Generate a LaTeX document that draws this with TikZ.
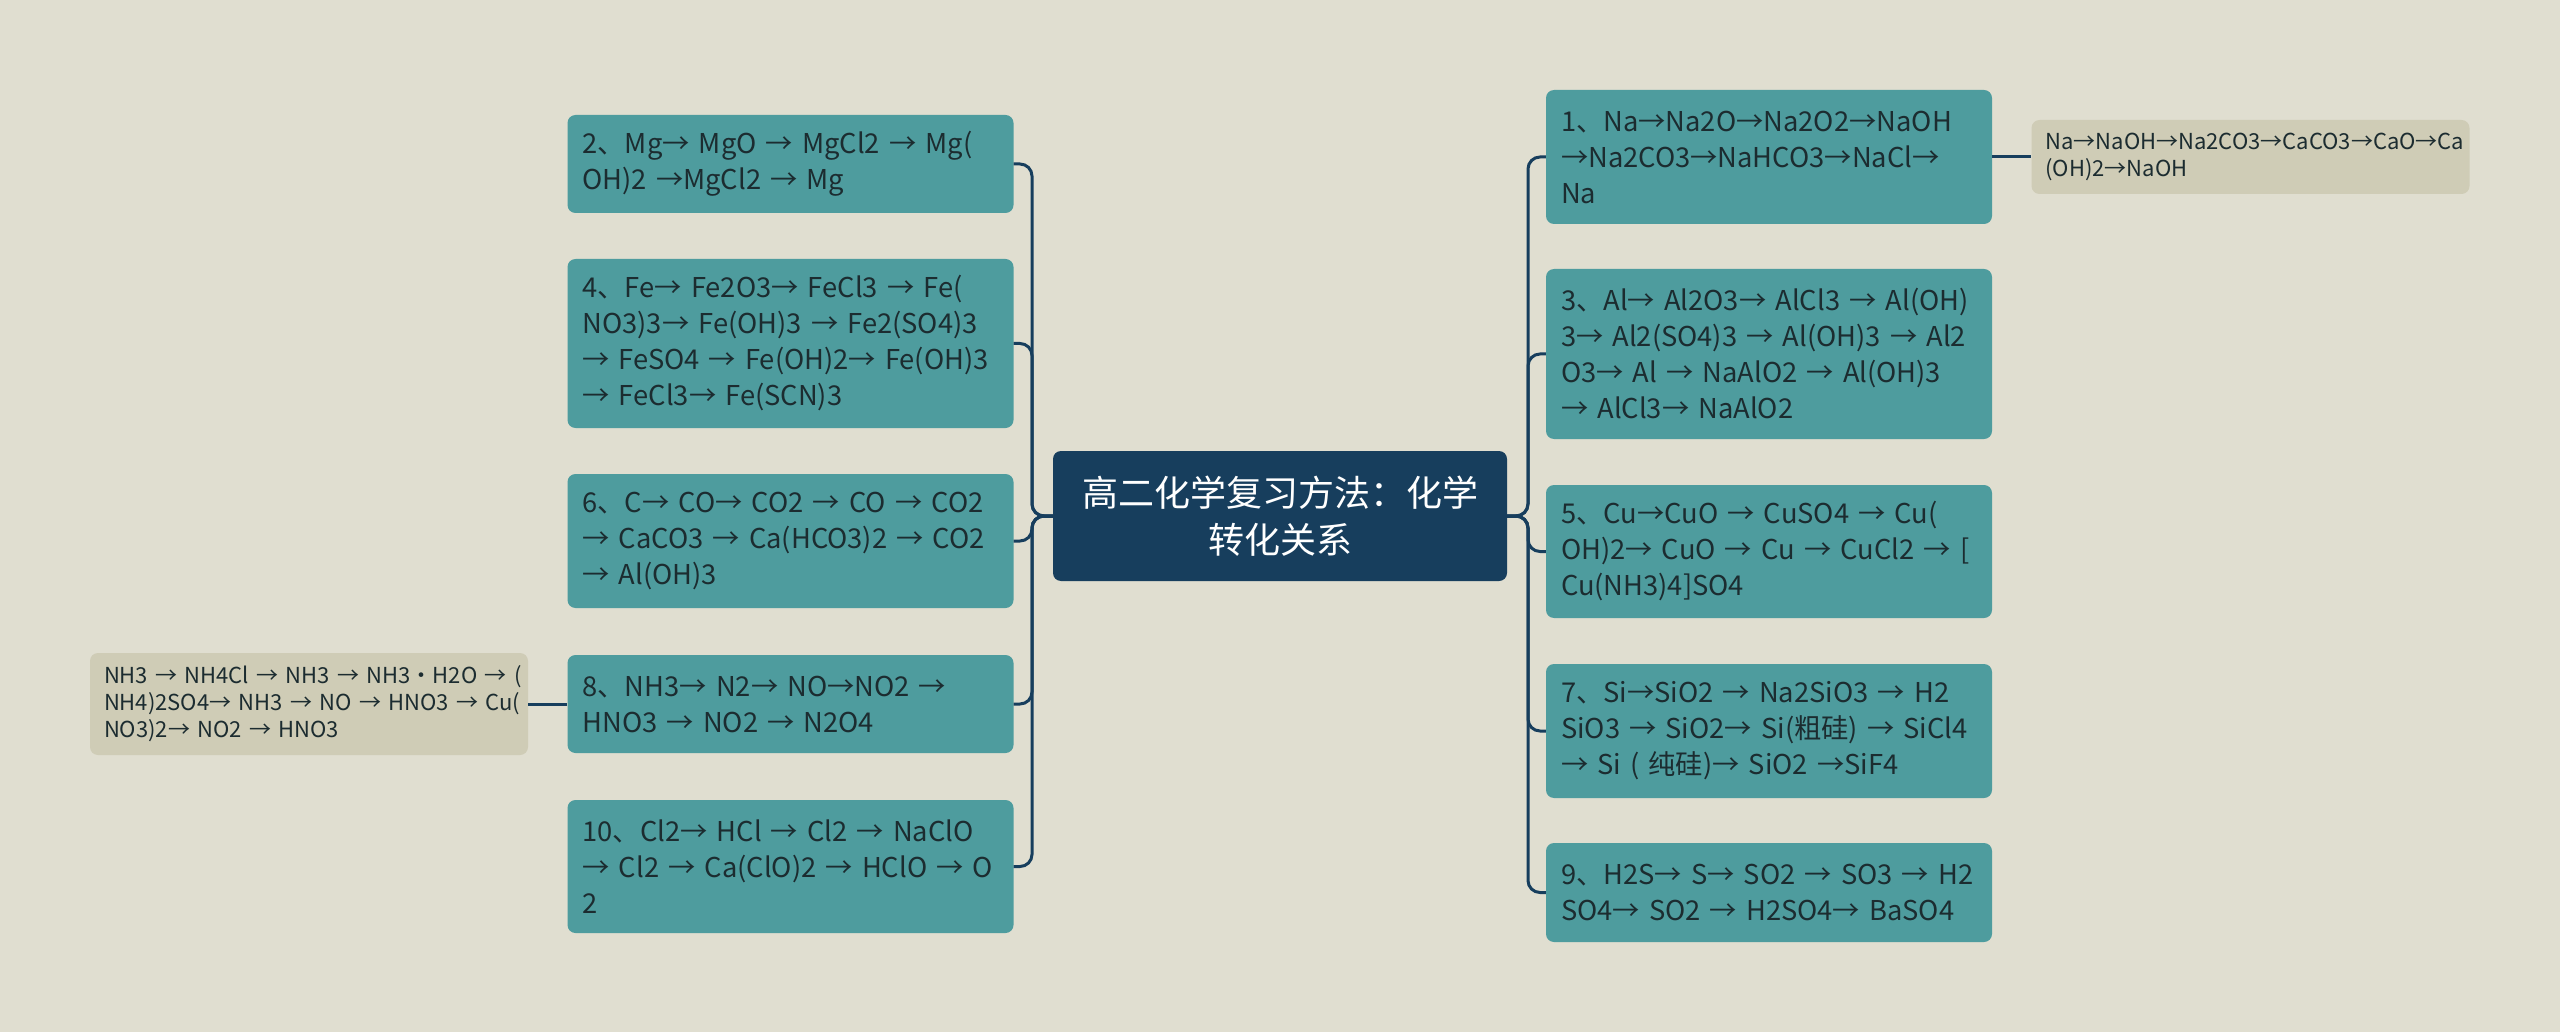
\documentclass[tikz,border=0pt]{standalone}
\usepackage{fontspec}
\setmainfont{Noto Sans CJK SC}
\definecolor{paper}{HTML}{E0DED0}
\definecolor{navy}{HTML}{173E5D}
\definecolor{tealbox}{HTML}{4E9C9E}
\definecolor{sand}{HTML}{CFCCB6}
\definecolor{ink}{HTML}{1C2C30}
\tikzset{
    topic/.style={fill=navy, text=white, rounded corners=8pt, align=center,
        font=\fontsize{36}{47}\selectfont, minimum width=454pt, minimum height=130pt, inner sep=0pt},
    branch/.style={fill=tealbox, text=ink, rounded corners=8pt, align=left, text width=416pt,
        inner xsep=15pt, inner ysep=0pt, font=\fontsize{27.3}{36}\selectfont},
    leaf/.style={fill=sand, text=ink, rounded corners=8pt, align=left, text width=410pt,
        inner xsep=14pt, inner ysep=0pt, font=\fontsize{22}{27}\selectfont},
    link/.style={draw=navy, line width=3pt, rounded corners=12pt}
}
\begin{document}
\begin{tikzpicture}[x=1pt,y=-1pt]
    \fill[paper] (0,0) rectangle (2560,1032);
    \useasboundingbox (0,0) rectangle (2560,1032);
    % Central topic
    \node[topic] (main) at (1280,516) {高二化学复习方法：化学\\转化关系};
    % Left branches
    \node[branch, minimum height=98pt] (n2) at (790.5,164) {\mbox{2、Mg→ MgO → MgCl2 → Mg(}\\\mbox{OH)2 →MgCl2 → Mg}};
    \node[branch, minimum height=169pt] (n4) at (790.5,343.5) {\mbox{4、Fe→ Fe2O3→ FeCl3 → Fe(}\\\mbox{NO3)3→ Fe(OH)3 → Fe2(SO4)3}\\\mbox{→ FeSO4 → Fe(OH)2→ Fe(OH)3}\\\mbox{→ FeCl3→ Fe(SCN)3}};
    \node[branch, minimum height=134pt] (n6) at (790.5,541) {\mbox{6、C→ CO→ CO2 → CO → CO2}\\\mbox{→ CaCO3 → Ca(HCO3)2 → CO2}\\\mbox{→ Al(OH)3}};
    \node[branch, minimum height=98pt] (n8) at (790.5,704) {\mbox{8、NH3→ N2→ NO→NO2 →}\\\mbox{HNO3 → NO2 → N2O4}};
    \node[branch, minimum height=133pt] (n10) at (790.5,866.5) {\mbox{10、Cl2→ HCl → Cl2 → NaClO}\\\mbox{→ Cl2 → Ca(ClO)2 → HClO → O}\\\mbox{2}};
    % Right branches
    \node[branch, minimum height=134pt] (n1) at (1769,157) {\mbox{1、Na→Na2O→Na2O2→NaOH}\\\mbox{→Na2CO3→NaHCO3→NaCl→}\\\mbox{Na}};
    \node[branch, minimum height=170pt] (n3) at (1769,354) {\mbox{3、Al→ Al2O3→ AlCl3 → Al(OH)}\\\mbox{3→ Al2(SO4)3 → Al(OH)3 → Al2}\\\mbox{O3→ Al → NaAlO2 → Al(OH)3}\\\mbox{→ AlCl3→ NaAlO2}};
    \node[branch, minimum height=133pt] (n5) at (1769,551.5) {\mbox{5、Cu→CuO → CuSO4 → Cu(}\\\mbox{OH)2→ CuO → Cu → CuCl2 → [}\\\mbox{Cu(NH3)4]SO4}};
    \node[branch, minimum height=134pt] (n7) at (1769,731) {\mbox{7、Si→SiO2 → Na2SiO3 → H2}\\\mbox{SiO3 → SiO2→ Si(粗硅) → SiCl4}\\\mbox{→ Si ( 纯硅)→ SiO2 →SiF4}};
    \node[branch, minimum height=99pt] (n9) at (1769,892.5) {\mbox{9、H2S→ S→ SO2 → SO3 → H2}\\\mbox{SO4→ SO2 → H2SO4→ BaSO4}};
    % Leaves
    \node[leaf, minimum height=74pt] (leafna) at (2250.5,157) {\mbox{Na→NaOH→Na2CO3→CaCO3→CaO→Ca}\\\mbox{(OH)2→NaOH}};
    \node[leaf, minimum height=102pt] (leafnh) at (309,704) {\mbox{NH3 → NH4Cl → NH3 → NH3·H2O → (}\\\mbox{NH4)2SO4→ NH3 → NO → HNO3 → Cu(}\\\mbox{NO3)2→ NO2 → HNO3}};
    % Connectors
    \coordinate (lj) at (1032,516);
    \coordinate (rj) at (1528,516);
    \foreach \n in {n2,n4,n6,n8,n10}
        \draw[link] (main.west) -- (lj) |- (\n.east);
    \foreach \n in {n1,n3,n5,n7,n9}
        \draw[link] (main.east) -- (rj) |- (\n.west);
    \draw[link] (n1.east) -- (leafna.west);
    \draw[link] (n8.west) -- (leafnh.east);
\end{tikzpicture}
\end{document}
